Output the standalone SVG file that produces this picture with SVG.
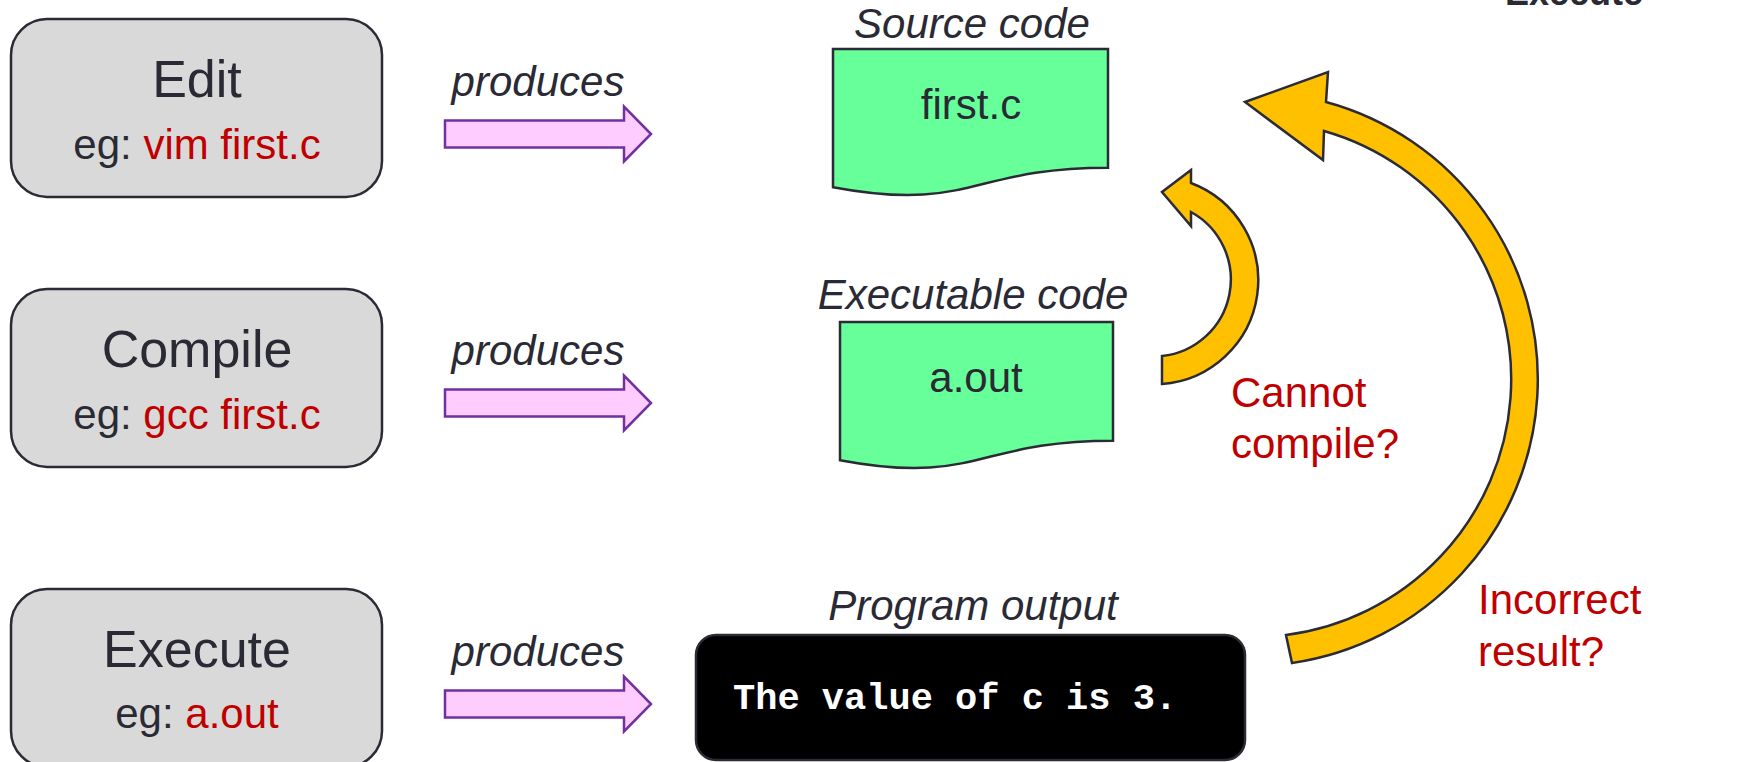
<svg xmlns="http://www.w3.org/2000/svg" width="1746" height="762" viewBox="0 0 1746 762">
  <style>
    text { font-family: "Liberation Sans", Arial, sans-serif; }
    text.mono { font-family: "Liberation Mono", "Courier New", monospace; font-weight: bold; font-size: 37px; fill: #FFFFFF; }
    .step { fill: #D9D9D9; stroke: #2B2B36; stroke-width: 2.5; }
    .title { font-size: 52px; fill: #2A2A35; text-anchor: middle; }
    .sub { font-size: 42px; fill: #2A2A35; text-anchor: middle; }
    .red { fill: #C00000; }
    .verb { font-size: 42px; font-style: italic; fill: #2A2A35; text-anchor: middle; }
    .flow { fill: #FFCCFF; stroke: #7030A0; stroke-width: 2.5; }
    .doc { fill: #66FF99; stroke: #2B2B36; stroke-width: 2.5; }
    .doctext { font-size: 42px; fill: #2A2A35; text-anchor: middle; }
    .loop { fill: #FFC000; stroke: #2B2B36; stroke-width: 2.5; stroke-linejoin: miter; }
    .note { font-size: 42px; fill: #C00000; }
  </style>
  <defs>
    <!-- block arrow, tail at x=0, centred on y=0 -->
    <path id="block-arrow" d="M0,-13.5 H179 V-27.5 L206,0 L179,27.5 V13.5 H0 Z"/>
  </defs>

  <rect width="1746" height="762" fill="#FFFFFF"/>

  <!-- heading, partly off the top edge -->
  <text x="1505" y="5" font-size="36" font-weight="bold" fill="#2A2A35">Execute</text>

  <!-- step boxes -->
  <g id="edit">
    <rect class="step" x="11" y="19" width="371" height="178" rx="36"/>
    <text class="title" x="197" y="97">Edit</text>
    <text class="sub" x="197" y="159">eg: <tspan class="red">vim first.c</tspan></text>
  </g>
  <g id="compile">
    <rect class="step" x="11" y="289" width="371" height="178" rx="36"/>
    <text class="title" x="197" y="367">Compile</text>
    <text class="sub" x="197" y="429">eg: <tspan class="red">gcc first.c</tspan></text>
  </g>
  <g id="execute">
    <rect class="step" x="11" y="589" width="371" height="178" rx="36"/>
    <text class="title" x="197" y="667">Execute</text>
    <text class="sub" x="197" y="728">eg: <tspan class="red">a.out</tspan></text>
  </g>

  <!-- products -->
  <g id="source-code">
    <text class="verb" x="972" y="38">Source code</text>
    <path class="doc" d="M833,49 H1108 V167.7 C970.5,167.7 970.5,212.9 833,187.2 Z"/>
    <text class="doctext" x="971" y="119">first.c</text>
  </g>
  <g id="executable-code">
    <text class="verb" x="973" y="309">Executable code</text>
    <path class="doc" d="M840,322 H1113 V440.7 C976.5,440.7 976.5,485.9 840,460.2 Z"/>
    <text class="doctext" x="976" y="392">a.out</text>
  </g>
  <g id="program-output">
    <text class="verb" x="973" y="620">Program output</text>
    <rect x="696" y="635" width="549" height="125" rx="20" fill="#000000" stroke="#2B2B36" stroke-width="2.5"/>
    <text class="mono" x="733" y="709">The value of c is 3.</text>
  </g>

  <!-- connectors -->
  <g id="connectors">
    <text class="verb" x="538" y="96">produces</text>
    <use href="#block-arrow" class="flow" transform="translate(445,134)"/>
    <text class="verb" x="538" y="365">produces</text>
    <use href="#block-arrow" class="flow" transform="translate(445,403)"/>
    <text class="verb" x="538" y="666">produces</text>
    <use href="#block-arrow" class="flow" transform="translate(445,704)"/>

    <!-- compile error loop back to the source -->
    <path class="loop" d="M1162,384 A104,104 0 0 0 1191,183 L1191,170 L1162,192 L1191,226 L1191,212 A77,77 0 0 1 1162,356 Z"/>
    <!-- wrong result loop back to the source -->
    <path class="loop" d="M1292,663 A287,287 0 0 0 1326,102 L1328,72 L1245,102 L1323,160 L1324,131 A258,258 0 0 1 1286,635 Z"/>

    <text class="note" x="1231" y="407">Cannot</text>
    <text class="note" x="1231" y="458">compile?</text>
    <text class="note" x="1478" y="614">Incorrect</text>
    <text class="note" x="1478" y="666">result?</text>
  </g>
</svg>
